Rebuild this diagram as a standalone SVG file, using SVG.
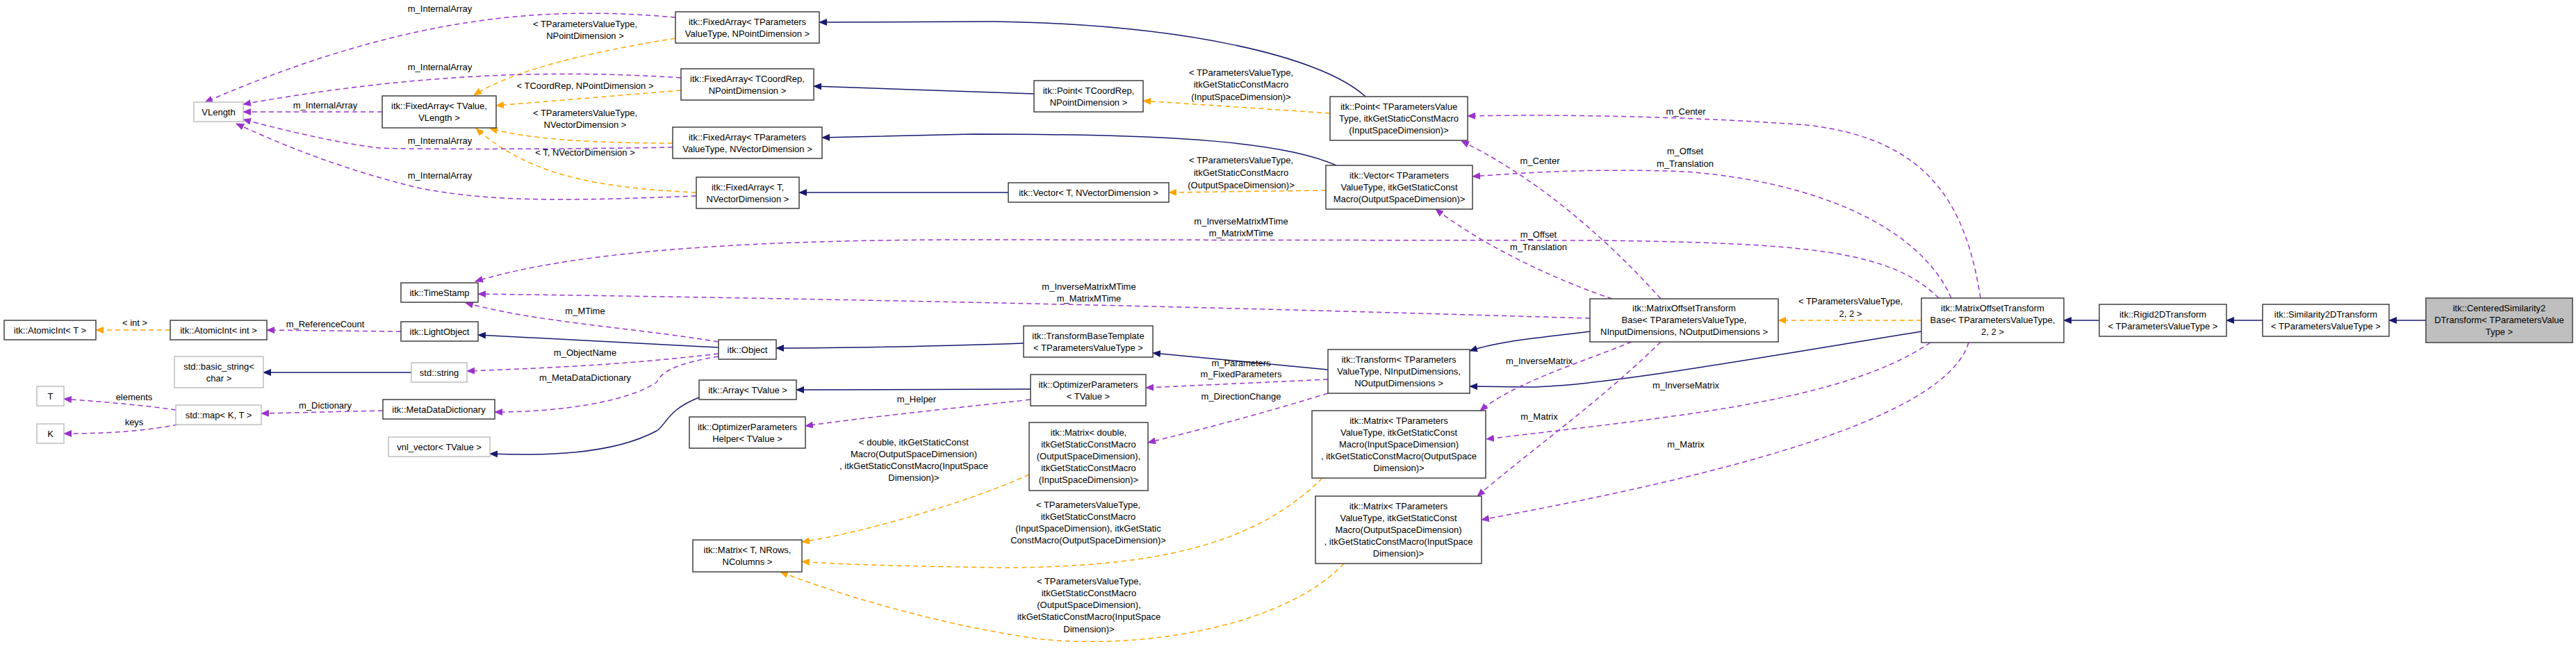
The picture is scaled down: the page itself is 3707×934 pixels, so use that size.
<svg xmlns="http://www.w3.org/2000/svg" width="3707" height="934" viewBox="0 0 3707 934">
<defs>
<marker id="an" markerWidth="12" markerHeight="10" refX="11" refY="5" orient="auto" markerUnits="userSpaceOnUse"><path d="M0,0 L12,5 L0,10 Z" fill="#191970"/></marker>
<marker id="ap" markerWidth="12" markerHeight="10" refX="11" refY="5" orient="auto" markerUnits="userSpaceOnUse"><path d="M0,0 L12,5 L0,10 Z" fill="#9a32cd"/></marker>
<marker id="ao" markerWidth="12" markerHeight="10" refX="11" refY="5" orient="auto" markerUnits="userSpaceOnUse"><path d="M0,0 L12,5 L0,10 Z" fill="#ffa500"/></marker>
</defs>
<style>
text{font-family:"Liberation Sans",Arial,sans-serif;font-size:13px;fill:#000}
.t{text-anchor:middle}
.l{text-anchor:middle}
rect{fill:#fff;stroke:#404040;stroke-width:1.5}
.g rect{stroke:#bfbfbf}
.c rect{fill:#bfbfbf}
.n{fill:none;stroke:#191970;stroke-width:1.5}
.p{fill:none;stroke:#9a32cd;stroke-width:1.5;stroke-dasharray:7,5}
.o{fill:none;stroke:#ffa500;stroke-width:1.5;stroke-dasharray:7,5}
</style>
<g id="edges">
<path class="n" marker-end="url(#an)" d="M3491,461 L3438,461"/>
<path class="n" marker-end="url(#an)" d="M3256,461 L3204,461"/>
<path class="n" marker-end="url(#an)" d="M3021,461 L2970,461"/>
<path class="n" marker-end="url(#an)" d="M2765,477 C2500,520 2300,556 2200,557 L2115,556"/>
<path class="n" marker-end="url(#an)" d="M2288,477 C2220,486 2160,490 2115,505"/>
<path class="n" marker-end="url(#an)" d="M1911,532 L1659,508"/>
<path class="n" marker-end="url(#an)" d="M1473,494 C1350,498 1200,501 1117,501"/>
<path class="n" marker-end="url(#an)" d="M1034,500 L688,482"/>
<path class="n" marker-end="url(#an)" d="M1965,139 C1900,80 1700,35 1430,31 L1179,32"/>
<path class="n" marker-end="url(#an)" d="M1488,135 L1171,124"/>
<path class="n" marker-end="url(#an)" d="M1923,238 C1850,205 1700,193 1400,193 L1183,198"/>
<path class="n" marker-end="url(#an)" d="M1451,277 L1150,277"/>
<path class="n" marker-end="url(#an)" d="M592,536 L379,536"/>
<path class="n" marker-end="url(#an)" d="M1006,572 C960,590 960,610 945,620 C880,655 780,656 705,653"/>
<path class="n" marker-end="url(#an)" d="M1483,560 L1146,561"/>
<path class="o" marker-end="url(#ao)" d="M1914,163 L1645,145"/>
<path class="o" marker-end="url(#ao)" d="M1908,274 L1682,277"/>
<path class="o" marker-end="url(#ao)" d="M2765,461 L2559,461"/>
<path class="o" marker-end="url(#ao)" d="M972,55 C850,75 740,100 682,137"/>
<path class="o" marker-end="url(#ao)" d="M980,130 L714,152"/>
<path class="o" marker-end="url(#ao)" d="M968,206 C850,206 760,200 705,185"/>
<path class="o" marker-end="url(#ao)" d="M1002,277 C850,270 760,250 685,185"/>
<path class="o" marker-end="url(#ao)" d="M245,475 L138,475"/>
<path class="o" marker-end="url(#ao)" d="M1481,683 C1400,720 1250,765 1154,780"/>
<path class="o" marker-end="url(#ao)" d="M1903,688 C1800,790 1650,815 1450,817 C1300,815 1200,812 1154,808"/>
<path class="o" marker-end="url(#ao)" d="M1934,811 C1850,900 1650,935 1500,920 C1350,900 1200,853 1123,823"/>
<path class="p" marker-end="url(#ap)" d="M972,25 C800,10 600,15 295,147"/>
<path class="p" marker-end="url(#ap)" d="M980,112 C800,100 600,105 350,150"/>
<path class="p" marker-end="url(#ap)" d="M550,161 L350,161"/>
<path class="p" marker-end="url(#ap)" d="M968,212 C800,215 600,215 545,213 C480,205 400,185 350,172"/>
<path class="p" marker-end="url(#ap)" d="M1002,282 C800,290 700,290 600,270 C500,245 420,215 340,178"/>
<path class="p" marker-end="url(#ap)" d="M2288,458 C2000,450 1500,434 688,423"/>
<path class="p" marker-end="url(#ap)" d="M2790,429 C2720,360 2600,350 2300,346 L1400,345 C1000,345 800,370 684,405"/>
<path class="p" marker-end="url(#ap)" d="M2850,429 C2830,300 2780,200 2600,180 C2400,165 2200,165 2112,167"/>
<path class="p" marker-end="url(#ap)" d="M2808,429 C2760,320 2600,260 2425,247 C2300,242 2200,248 2119,254"/>
<path class="p" marker-end="url(#ap)" d="M2390,430 C2300,330 2200,250 2103,203"/>
<path class="p" marker-end="url(#ap)" d="M2320,430 C2230,400 2130,350 2066,301"/>
<path class="p" marker-end="url(#ap)" d="M2348,492 C2280,520 2180,550 2130,591"/>
<path class="p" marker-end="url(#ap)" d="M2390,492 C2300,580 2200,650 2126,714"/>
<path class="p" marker-end="url(#ap)" d="M2778,493 C2650,580 2400,600 2139,632"/>
<path class="p" marker-end="url(#ap)" d="M2833,493 C2800,600 2500,680 2132,748"/>
<path class="p" marker-end="url(#ap)" d="M1034,492 C900,470 780,465 670,436"/>
<path class="p" marker-end="url(#ap)" d="M1034,509 C900,525 780,530 672,534"/>
<path class="p" marker-end="url(#ap)" d="M1034,513 C960,525 950,540 945,550 C900,580 800,593 712,593"/>
<path class="p" marker-end="url(#ap)" d="M577,477 L384,475"/>
<path class="p" marker-end="url(#ap)" d="M551,591 L376,595"/>
<path class="p" marker-end="url(#ap)" d="M253,590 C200,582 140,578 92,574"/>
<path class="p" marker-end="url(#ap)" d="M256,611 C200,622 140,624 92,624"/>
<path class="p" marker-end="url(#ap)" d="M1911,546 L1649,558"/>
<path class="p" marker-end="url(#ap)" d="M1911,566 C1800,600 1720,620 1652,637"/>
<path class="p" marker-end="url(#ap)" d="M1483,575 C1350,590 1250,600 1159,613"/>
<g>
<text class="l" x="633" y="17">m_InternalArray</text>
<text class="l" x="633" y="101">m_InternalArray</text>
<text class="l" x="468" y="156">m_InternalArray</text>
<text class="l" x="633" y="207">m_InternalArray</text>
<text class="l" x="633" y="257">m_InternalArray</text>
<text class="l" x="842" y="39">&lt; TParametersValueType,</text>
<text class="l" x="842" y="56">NPointDimension &gt;</text>
<text class="l" x="842" y="128">&lt; TCoordRep, NPointDimension &gt;</text>
<text class="l" x="842" y="167">&lt; TParametersValueType,</text>
<text class="l" x="842" y="184">NVectorDimension &gt;</text>
<text class="l" x="842" y="224">&lt; T, NVectorDimension &gt;</text>
<text class="l" x="194" y="469">&lt; int &gt;</text>
<text class="l" x="468" y="471">m_ReferenceCount</text>
<text class="l" x="193" y="576">elements</text>
<text class="l" x="193" y="612">keys</text>
<text class="l" x="468" y="588">m_Dictionary</text>
<text class="l" x="842" y="452">m_MTime</text>
<text class="l" x="842" y="512">m_ObjectName</text>
<text class="l" x="842" y="548">m_MetaDataDictionary</text>
<text class="l" x="1786" y="109">&lt; TParametersValueType,</text>
<text class="l" x="1786" y="126">itkGetStaticConstMacro</text>
<text class="l" x="1786" y="144">(InputSpaceDimension)&gt;</text>
<text class="l" x="1786" y="235">&lt; TParametersValueType,</text>
<text class="l" x="1786" y="253">itkGetStaticConstMacro</text>
<text class="l" x="1786" y="271">(OutputSpaceDimension)&gt;</text>
<text class="l" x="1786" y="323">m_InverseMatrixMTime</text>
<text class="l" x="1786" y="340">m_MatrixMTime</text>
<text class="l" x="1567" y="417">m_InverseMatrixMTime</text>
<text class="l" x="1567" y="434">m_MatrixMTime</text>
<text class="l" x="2216" y="236">m_Center</text>
<text class="l" x="2214" y="342">m_Offset</text>
<text class="l" x="2214" y="360">m_Translation</text>
<text class="l" x="2426" y="165">m_Center</text>
<text class="l" x="2425" y="222">m_Offset</text>
<text class="l" x="2425" y="240">m_Translation</text>
<text class="l" x="2215" y="524">m_InverseMatrix</text>
<text class="l" x="2215" y="604">m_Matrix</text>
<text class="l" x="2426" y="559">m_InverseMatrix</text>
<text class="l" x="2426" y="644">m_Matrix</text>
<text class="l" x="2663" y="438">&lt; TParametersValueType,</text>
<text class="l" x="2663" y="456">2, 2 &gt;</text>
<text class="l" x="1786" y="527">m_Parameters</text>
<text class="l" x="1786" y="543">m_FixedParameters</text>
<text class="l" x="1786" y="575">m_DirectionChange</text>
<text class="l" x="1319" y="579">m_Helper</text>
<text class="l" x="1315" y="641">&lt; double, itkGetStaticConst</text>
<text class="l" x="1315" y="658">Macro(OutputSpaceDimension)</text>
<text class="l" x="1315" y="675">, itkGetStaticConstMacro(InputSpace</text>
<text class="l" x="1315" y="692">Dimension)&gt;</text>
<text class="l" x="1566" y="731">&lt; TParametersValueType,</text>
<text class="l" x="1566" y="748">itkGetStaticConstMacro</text>
<text class="l" x="1566" y="765">(InputSpaceDimension), itkGetStatic</text>
<text class="l" x="1566" y="782">ConstMacro(OutputSpaceDimension)&gt;</text>
<text class="l" x="1567" y="841">&lt; TParametersValueType,</text>
<text class="l" x="1567" y="858">itkGetStaticConstMacro</text>
<text class="l" x="1567" y="875">(OutputSpaceDimension),</text>
<text class="l" x="1567" y="892">itkGetStaticConstMacro(InputSpace</text>
<text class="l" x="1567" y="910">Dimension)&gt;</text>
</g>
</g>
<g id="VLength" class="g"><rect x="279" y="147" width="71" height="28"/><text class="t" x="314.5" y="166">VLength</text></g>
<g id="FA_TValue"><rect x="550" y="138" width="164" height="46"/><text class="t" x="632" y="157">itk::FixedArray&lt; TValue,</text><text class="t" x="632" y="174">VLength &gt;</text></g>
<g id="FA_PN"><rect x="972" y="17" width="207" height="45"/><text class="t" x="1075.5" y="36">itk::FixedArray&lt; TParameters</text><text class="t" x="1075.5" y="53">ValueType, NPointDimension &gt;</text></g>
<g id="FA_CN"><rect x="980" y="99" width="191" height="45"/><text class="t" x="1075.5" y="118">itk::FixedArray&lt; TCoordRep,</text><text class="t" x="1075.5" y="135">NPointDimension &gt;</text></g>
<g id="FA_PV"><rect x="968" y="183" width="215" height="45"/><text class="t" x="1075.5" y="202">itk::FixedArray&lt; TParameters</text><text class="t" x="1075.5" y="219">ValueType, NVectorDimension &gt;</text></g>
<g id="FA_TV"><rect x="1002" y="255" width="148" height="45"/><text class="t" x="1076" y="274">itk::FixedArray&lt; T,</text><text class="t" x="1076" y="291">NVectorDimension &gt;</text></g>
<g id="TimeStamp"><rect x="577" y="407" width="111" height="28"/><text class="t" x="632.5" y="426">itk::TimeStamp</text></g>
<g id="AtomicIntT"><rect x="6" y="461" width="132" height="28"/><text class="t" x="72" y="480">itk::AtomicInt&lt; T &gt;</text></g>
<g id="AtomicIntInt"><rect x="245" y="461" width="139" height="28"/><text class="t" x="314.5" y="480">itk::AtomicInt&lt; int &gt;</text></g>
<g id="LightObject"><rect x="577" y="463" width="111" height="28"/><text class="t" x="632.5" y="482">itk::LightObject</text></g>
<g id="basic_string" class="g"><rect x="251" y="513" width="128" height="45"/><text class="t" x="315" y="532">std::basic_string&lt;</text><text class="t" x="315" y="549">char &gt;</text></g>
<g id="stdstring" class="g"><rect x="592" y="522" width="80" height="28"/><text class="t" x="632" y="541">std::string</text></g>
<g id="T" class="g"><rect x="53" y="556" width="39" height="28"/><text class="t" x="72.5" y="575">T</text></g>
<g id="K" class="g"><rect x="53" y="610" width="39" height="28"/><text class="t" x="72.5" y="629">K</text></g>
<g id="stdmap" class="g"><rect x="253" y="583" width="123" height="28"/><text class="t" x="314.5" y="602">std::map&lt; K, T &gt;</text></g>
<g id="MetaDataDictionary"><rect x="551" y="575" width="161" height="28"/><text class="t" x="631.5" y="594">itk::MetaDataDictionary</text></g>
<g id="vnl_vector" class="g"><rect x="559" y="629" width="146" height="28"/><text class="t" x="632" y="648">vnl_vector&lt; TValue &gt;</text></g>
<g id="Object"><rect x="1034" y="489" width="83" height="28"/><text class="t" x="1075.5" y="508">itk::Object</text></g>
<g id="Array"><rect x="1006" y="547" width="140" height="28"/><text class="t" x="1076" y="566">itk::Array&lt; TValue &gt;</text></g>
<g id="Helper"><rect x="992" y="600" width="167" height="45"/><text class="t" x="1075.5" y="619">itk::OptimizerParameters</text><text class="t" x="1075.5" y="636">Helper&lt; TValue &gt;</text></g>
<g id="MatrixT"><rect x="997" y="777" width="157" height="46"/><text class="t" x="1075.5" y="796">itk::Matrix&lt; T, NRows,</text><text class="t" x="1075.5" y="813">NColumns &gt;</text></g>
<g id="PointC"><rect x="1488" y="116" width="157" height="45"/><text class="t" x="1566.5" y="135">itk::Point&lt; TCoordRep,</text><text class="t" x="1566.5" y="152">NPointDimension &gt;</text></g>
<g id="PointP"><rect x="1914" y="139" width="198" height="63"/><text class="t" x="2013" y="158">itk::Point&lt; TParametersValue</text><text class="t" x="2013" y="175">Type, itkGetStaticConstMacro</text><text class="t" x="2013" y="192">(InputSpaceDimension)&gt;</text></g>
<g id="VectorT"><rect x="1451" y="263" width="231" height="28"/><text class="t" x="1566.5" y="282">itk::Vector&lt; T, NVectorDimension &gt;</text></g>
<g id="VectorP"><rect x="1908" y="238" width="211" height="63"/><text class="t" x="2013.5" y="257">itk::Vector&lt; TParameters</text><text class="t" x="2013.5" y="274">ValueType, itkGetStaticConst</text><text class="t" x="2013.5" y="291">Macro(OutputSpaceDimension)&gt;</text></g>
<g id="TBT"><rect x="1473" y="469" width="186" height="45"/><text class="t" x="1566" y="488">itk::TransformBaseTemplate</text><text class="t" x="1566" y="505">&lt; TParametersValueType &gt;</text></g>
<g id="OptP"><rect x="1483" y="539" width="166" height="45"/><text class="t" x="1566" y="558">itk::OptimizerParameters</text><text class="t" x="1566" y="575">&lt; TValue &gt;</text></g>
<g id="MatD"><rect x="1481" y="608" width="171" height="98"/><text class="t" x="1566.5" y="627">itk::Matrix&lt; double,</text><text class="t" x="1566.5" y="644">itkGetStaticConstMacro</text><text class="t" x="1566.5" y="661">(OutputSpaceDimension),</text><text class="t" x="1566.5" y="678">itkGetStaticConstMacro</text><text class="t" x="1566.5" y="695">(InputSpaceDimension)&gt;</text></g>
<g id="Transform"><rect x="1911" y="503" width="204" height="63"/><text class="t" x="2013" y="522">itk::Transform&lt; TParameters</text><text class="t" x="2013" y="539">ValueType, NInputDimensions,</text><text class="t" x="2013" y="556">NOutputDimensions &gt;</text></g>
<g id="MatI"><rect x="1888" y="591" width="250" height="97"/><text class="t" x="2013" y="610">itk::Matrix&lt; TParameters</text><text class="t" x="2013" y="627">ValueType, itkGetStaticConst</text><text class="t" x="2013" y="644">Macro(InputSpaceDimension)</text><text class="t" x="2013" y="661">, itkGetStaticConstMacro(OutputSpace</text><text class="t" x="2013" y="678">Dimension)&gt;</text></g>
<g id="MatO"><rect x="1893" y="714" width="239" height="97"/><text class="t" x="2012.5" y="733">itk::Matrix&lt; TParameters</text><text class="t" x="2012.5" y="750">ValueType, itkGetStaticConst</text><text class="t" x="2012.5" y="767">Macro(OutputSpaceDimension)</text><text class="t" x="2012.5" y="784">, itkGetStaticConstMacro(InputSpace</text><text class="t" x="2012.5" y="801">Dimension)&gt;</text></g>
<g id="MOTB"><rect x="2288" y="430" width="271" height="62"/><text class="t" x="2423.5" y="448">itk::MatrixOffsetTransform</text><text class="t" x="2423.5" y="465">Base&lt; TParametersValueType,</text><text class="t" x="2423.5" y="482">NInputDimensions, NOutputDimensions &gt;</text></g>
<g id="MOTB22"><rect x="2765" y="429" width="205" height="64"/><text class="t" x="2867.5" y="448">itk::MatrixOffsetTransform</text><text class="t" x="2867.5" y="465">Base&lt; TParametersValueType,</text><text class="t" x="2867.5" y="482">2, 2 &gt;</text></g>
<g id="Rigid"><rect x="3021" y="438" width="183" height="46"/><text class="t" x="3112.5" y="457">itk::Rigid2DTransform</text><text class="t" x="3112.5" y="474">&lt; TParametersValueType &gt;</text></g>
<g id="Similarity"><rect x="3256" y="438" width="182" height="46"/><text class="t" x="3347" y="457">itk::Similarity2DTransform</text><text class="t" x="3347" y="474">&lt; TParametersValueType &gt;</text></g>
<g id="Centered" class="c"><rect x="3491" y="429" width="211" height="64"/><text class="t" x="3596.5" y="448">itk::CenteredSimilarity2</text><text class="t" x="3596.5" y="465">DTransform&lt; TParametersValue</text><text class="t" x="3596.5" y="482">Type &gt;</text></g>
</svg>
